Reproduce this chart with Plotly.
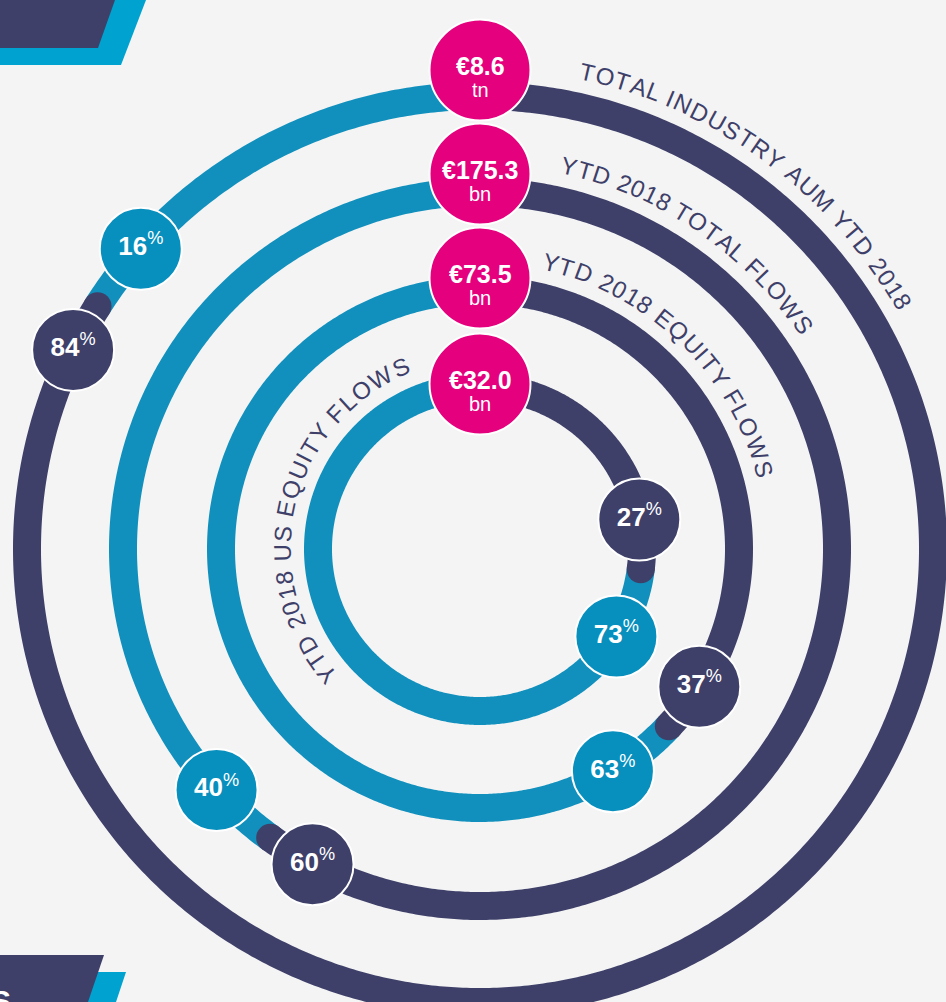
import math
import plotly.graph_objects as go

# ---------------- data ----------------
ring_labels = [
    "TOTAL INDUSTRY AUM YTD 2018",
    "YTD 2018 TOTAL FLOWS",
    "YTD 2018 EQUITY FLOWS",
    "YTD 2018 US EQUITY FLOWS",
]
total_values = ["€8.6", "€175.3", "€73.5", "€32.0"]
total_units = ["tn", "bn", "bn", "bn"]
dark_share = [84, 60, 37, 27]   # % drawn clockwise from the top
blue_share = [16, 40, 63, 73]   # % drawn anticlockwise from the top

# ---------------- layout constants ----------------
W, H = 946, 1002
CX, CY = 480, 549                 # pixel position of the common centre
ring_radius = [453, 357, 259, 162]
ring_width = 28
total_bubble_lift = [26, 18, 12, 3]
label_arc = [(11.8, 60.5), (11.9, 56.5), (12.1, 76.0), (228.0, 339.0)]
label_lift = 36
dark_gap, blue_gap = 50, 72       # arc distance (px) of bubbles from the junction

NAVY = "#3e4069"
RING_BLUE = "#1190bd"
BUBBLE_BLUE = "#078fbe"
PINK = "#e5007d"
CYAN = "#00a2d0"
BG = "#f4f4f4"
FONT = "Liberation Sans, Arial, Helvetica, sans-serif"

CHAR_W = {" ": .278, "A": .667, "D": .722, "E": .667, "F": .611, "I": .278,
          "L": .556, "M": .833, "N": .722, "O": .778, "Q": .778, "R": .722,
          "S": .667, "T": .611, "U": .722, "W": .944, "Y": .667}


def polar_xy(r, deg):
    t = math.radians(deg)
    return r * math.sin(t), r * math.cos(t)


def arc(r, a0, a1, step=0.5):
    n = max(2, int(abs(a1 - a0) / step) + 1)
    xs, ys = [], []
    for i in range(n):
        a = a0 + (a1 - a0) * i / (n - 1)
        x, y = polar_xy(r, a)
        xs.append(x)
        ys.append(y)
    return xs, ys


fig = go.Figure()

# rings
for r, d in zip(ring_radius, dark_share):
    j = 360 * d / 100
    xs, ys = arc(r, j, 360)
    fig.add_trace(go.Scatter(x=xs, y=ys, mode="lines",
                             line=dict(color=RING_BLUE, width=ring_width, simplify=False),
                             hoverinfo="skip", showlegend=False))
    xs, ys = arc(r, 0, j)
    fig.add_trace(go.Scatter(x=xs, y=ys, mode="lines",
                             line=dict(color=NAVY, width=ring_width, simplify=False),
                             hoverinfo="skip", showlegend=False))
    jx, jy = polar_xy(r, j)
    fig.add_trace(go.Scatter(x=[jx], y=[jy], mode="markers",
                             marker=dict(color=NAVY, size=ring_width, line=dict(width=0)),
                             hoverinfo="skip", showlegend=False))

# percentage bubbles
for r, d, b in zip(ring_radius, dark_share, blue_share):
    j = 360 * d / 100
    ad = j - math.degrees(dark_gap / r)
    ab = j + math.degrees(blue_gap / r)
    for ang, val, col in ((ab, b, BUBBLE_BLUE), (ad, d, NAVY)):
        x, y = polar_xy(r, ang)
        fig.add_trace(go.Scatter(
            x=[x], y=[y], mode="markers+text",
            marker=dict(color=col, size=82, line=dict(color="white", width=2)),
            text=[f"<b>{val}</b><sup>%</sup>"], textposition="middle center",
            textfont=dict(family=FONT, size=26, color="white"),
            hoverinfo="skip", showlegend=False))

# total bubbles at the top
for r, lift, v, u in zip(ring_radius, total_bubble_lift, total_values, total_units):
    y = r + lift
    fig.add_trace(go.Scatter(
        x=[0], y=[y], mode="markers",
        marker=dict(color=PINK, size=101, line=dict(color="white", width=2)),
        hoverinfo="skip", showlegend=False))
    fig.add_annotation(x=0, y=y, xref="x", yref="y", text=f"<b>{v}</b>",
                       showarrow=False, yshift=4,
                       font=dict(family=FONT, size=25, color="white"))
    fig.add_annotation(x=0, y=y, xref="x", yref="y", text=u,
                       showarrow=False, yshift=-20,
                       font=dict(family=FONT, size=20, color="white"))

# curved ring labels
for label, r, (a0, a1) in zip(ring_labels, ring_radius, label_arc):
    rt = r + label_lift
    widths = [CHAR_W.get(c, .556) for c in label]
    total = sum(widths)
    acc = 0.0
    for c, w in zip(label, widths):
        frac = (acc + w / 2) / total
        acc += w
        if c == " ":
            continue
        ang = a0 + (a1 - a0) * frac
        x, y = polar_xy(rt, ang)
        ta = ang if ang <= 180 else ang - 360
        fig.add_annotation(x=x, y=y, xref="x", yref="y", text=c, showarrow=False,
                           textangle=ta,
                           font=dict(family=FONT, size=24, color=NAVY))


# decorative banners (pixel coordinates -> paper)
def ppath(pts):
    s = ""
    for i, (px, py) in enumerate(pts):
        s += ("M" if i == 0 else "L") + f"{px / W:.5f},{1 - py / H:.5f} "
    return s + "Z"


shapes = [
    dict(type="path", xref="paper", yref="paper", layer="above",
         path=ppath([(0, 0), (146, 0), (121, 65), (0, 65)]),
         fillcolor=CYAN, line=dict(width=0)),
    dict(type="path", xref="paper", yref="paper", layer="above",
         path=ppath([(0, 0), (115, 0), (98, 48), (0, 48)]),
         fillcolor=NAVY, line=dict(width=0)),
    dict(type="path", xref="paper", yref="paper", layer="above",
         path=ppath([(90, 972), (126, 972), (116, 1002), (80, 1002)]),
         fillcolor=CYAN, line=dict(width=0)),
    dict(type="path", xref="paper", yref="paper", layer="above",
         path=ppath([(0, 955), (104, 955), (88, 1002), (0, 1002)]),
         fillcolor=NAVY, line=dict(width=0)),
]

fig.add_annotation(x=13 / W, y=1 - 982 / H, xref="paper", yref="paper",
                   xanchor="right", yanchor="top", text="<b>S</b>", showarrow=False,
                   font=dict(family=FONT, size=30, color="white"))

fig.update_layout(
    width=W, height=H, margin=dict(l=0, r=0, t=0, b=0),
    paper_bgcolor=BG, plot_bgcolor=BG,
    xaxis=dict(range=[-CX, W - CX], visible=False, fixedrange=True),
    yaxis=dict(range=[CY - H, CY], visible=False, fixedrange=True),
    shapes=shapes, showlegend=False,
)

fig.write_html("out.html",
               post_script="document.body.style.margin='0';document.body.style.overflow='hidden';",
               config={"displayModeBar": False})
